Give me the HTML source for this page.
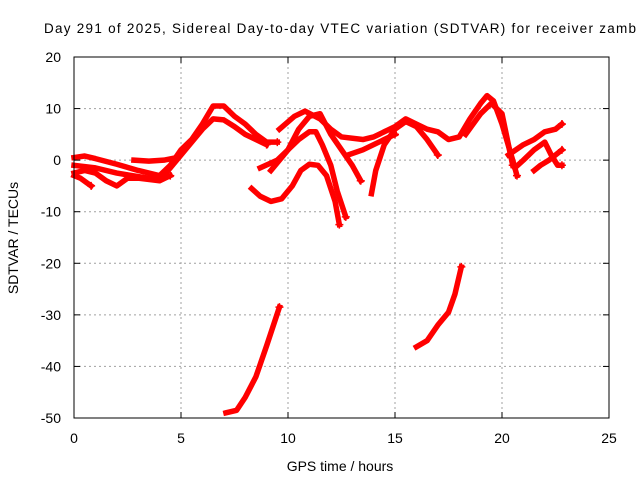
<!DOCTYPE html>
<html><head><meta charset="utf-8"><style>
html,body{margin:0;padding:0;background:#fff;}
svg{display:block;font-family:"Liberation Sans",sans-serif;}
</style></head><body>
<svg id="chart" width="640" height="480">
<text x="44" y="33" font-size="13.5" fill="#000" textLength="592">Day 291 of 2025, Sidereal Day-to-day VTEC variation (SDTVAR) for receiver zamb</text>
<g id="grid"></g>
<g id="series" fill="none"></g>
<rect x="74" y="57" width="535" height="361" fill="none" stroke="#000" stroke-width="1"/>
<g id="axes"></g>
<text x="340" y="471" font-size="14" text-anchor="middle">GPS time / hours</text>
<text x="0" y="0" font-size="14" text-anchor="middle" transform="translate(18,238) rotate(-90)">SDTVAR / TECUs</text>
</svg>
<script>
const xTicks=[0,5,10,15,20,25];
const yTicks=[20,10,0,-10,-20,-30,-40,-50];
const s1=[[0,0.5],[0.5,0.8],[1,0.3],[2,-0.8],[3,-2],[4,-3],[4.5,-1],[5,2],[5.5,4],[6,7],[6.5,10.5],[7,10.5],[7.5,8.5],[8,7],[8.5,5],[9,3.5],[9.5,3.5]];
const s2=[[0,-1],[1,-1.5],[2,-2.5],[3,-3.2],[4,-3.8],[4.5,-1.5],[5,1],[5.5,3.5],[6,6],[6.5,8],[7,7.8],[7.5,6.5],[8,5],[8.5,4],[9,3]];
const s3=[[0,-2.5],[0.5,-2],[1,-2.5],[1.5,-4],[2,-5],[2.5,-3.5],[3,-3.5],[4,-4],[4.5,-3]];
const s4=[[0,-3],[0.3,-3.5],[0.8,-5]];
const s5=[[2.8,0],[3.5,-0.2],[4.2,0],[4.8,0.5]];
const s6=[[8.3,-5.5],[8.7,-7],[9.2,-8],[9.7,-7.5],[10.2,-5],[10.6,-2],[11,-0.8],[11.4,-1],[11.8,-3],[12.2,-8],[12.4,-12.5]];
const s7=[[8.7,-1.5],[9.5,0],[10,2],[10.5,4],[11,5.5],[11.3,5.5],[11.6,3],[12,-1],[12.3,-6],[12.7,-11]];
const s8=[[9.2,-2],[10,2],[10.5,6],[11,8.5],[11.5,9],[12,5],[12.5,2],[13,-1],[13.4,-4]];
const s9=[[9.6,6],[10.3,8.5],[10.8,9.5],[11.5,8],[12,6],[12.5,4.5],[13.5,4],[14,4.5],[14.5,5.5],[15,6.5],[15.5,8],[16,7],[16.5,6],[17,5.5],[17.5,4],[18,4.5],[18.5,8],[19,11],[19.3,12.5],[19.6,11.5],[20,7],[20.5,0],[20.7,-3]];
const s10=[[13.9,-6.5],[14.1,-2],[14.5,3],[15,6],[15.5,7.5],[16,6.5],[16.5,4],[17,1]];
const s11=[[12.8,1],[13.5,2],[14.5,4],[15,5]];
const s12=[[18.3,5],[19,9],[19.5,11],[20,9],[20.3,3],[20.5,-1]];
const s13=[[20.3,1],[21,3],[21.5,4],[22,5.5],[22.5,6],[22.8,7]];
const s14=[[20.6,-1.5],[21,0],[21.5,2],[22,3.5],[22.3,1],[22.6,-1],[22.8,-1]];
const s15=[[21.5,-2],[21.8,-1],[22.2,0],[22.5,1],[22.8,2]];
const s16=[[7.1,-49],[7.6,-48.5],[8,-46],[8.5,-42],[9,-36],[9.6,-28.5]];
const s17=[[16,-36.2],[16.5,-35],[17,-32],[17.5,-29.5],[17.8,-26],[18.1,-20.7]];
const allSeries=[s1,s2,s3,s4,s5,s6,s7,s8,s9,s10,s11,s12,s13,s14,s15,s16,s17];
const X0=74,X1=609,Y0=418,Y1=57;
const xs=v=>X0+(v-0)/25*(X1-X0);
const ys=v=>Y0-(v+50)/70*(Y0-Y1);
const NS="http://www.w3.org/2000/svg";
const grid=document.getElementById('grid'),axes=document.getElementById('axes'),ser=document.getElementById('series');
function mk(tag,attrs,parent){const e=document.createElementNS(NS,tag);for(const k in attrs)e.setAttribute(k,attrs[k]);parent.appendChild(e);return e;}
xTicks.forEach(t=>{const x=xs(t);
 if(t>0&&t<25){const g=mk('line',{x1:x,x2:x,y1:Y1,y2:Y0,stroke:'#a0a0a0','stroke-dasharray':'2,3'},grid);
 
 }
 mk('line',{x1:x,x2:x,y1:Y0,y2:Y0-6,stroke:'#000'},axes);
 mk('line',{x1:x,x2:x,y1:Y1,y2:Y1+6,stroke:'#000'},axes);
 const l=mk('text',{x:x,y:443,'font-size':14,'text-anchor':'middle'},axes);l.textContent=t;
 
 
});
yTicks.forEach(t=>{const y=ys(t);
 if(t>-50&&t<20){const g=mk('line',{x1:X0,x2:X1,y1:y,y2:y,stroke:'#a0a0a0','stroke-dasharray':'2,3'},grid);
 
 }
 mk('line',{x1:X0,x2:X0+6,y1:y,y2:y,stroke:'#000'},axes);
 mk('line',{x1:X1,x2:X1-6,y1:y,y2:y,stroke:'#000'},axes);
 const l=mk('text',{x:61,y:y+5,'font-size':14,'text-anchor':'end'},axes);l.textContent=t;
 
 
});
allSeries.forEach((s,i)=>{
 const p=mk('polyline',{points:s.map(d=>xs(d[0])+','+ys(d[1])).join(' '),stroke:'#ff0000','stroke-width':5.5,'stroke-linejoin':'round','stroke-linecap':'square',fill:'none'},ser);
 
 
 const e=s[s.length-1];
 const m=mk('path',{d:`M${xs(e[0])-4},${ys(e[1])}h8M${xs(e[0])},${ys(e[1])-4}v8`,stroke:'#ff0000','stroke-width':1.5},ser);
 
 
});
</script>
</body></html>
